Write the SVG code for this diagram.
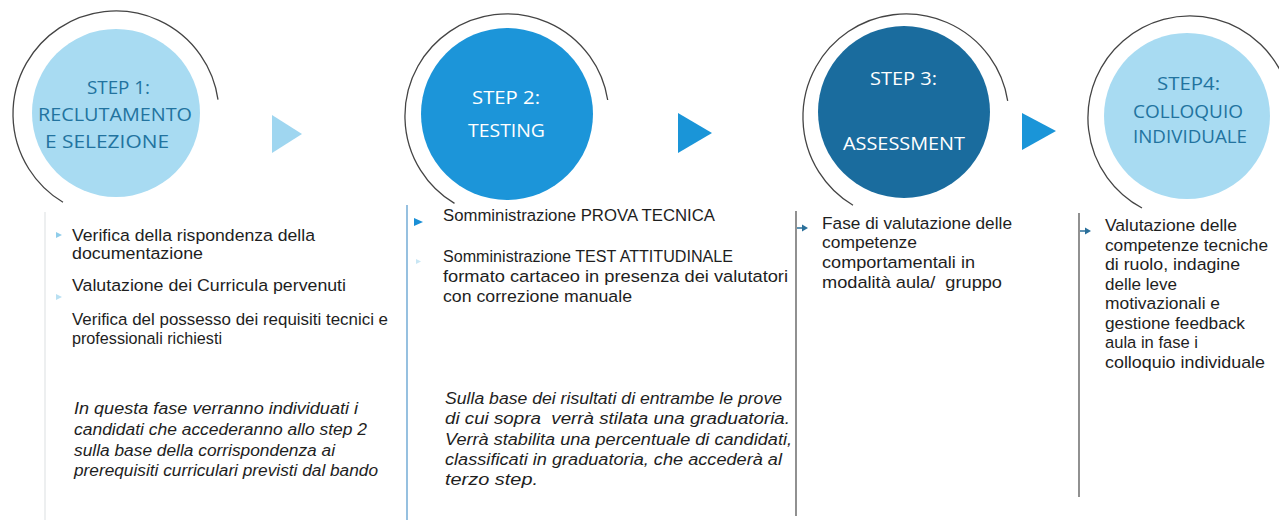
<svg xmlns="http://www.w3.org/2000/svg" width="1279" height="520" viewBox="0 0 1279 520">
<style>
.ring{fill:none;stroke:#444444;stroke-width:1.3}
.ct{font-family:"Open Sans","Liberation Sans",sans-serif;font-size:18.5px}
.dk{fill:#22739f}
.wh{fill:#ffffff}
.bt{font-family:"Liberation Sans",Arial,sans-serif;font-size:17.2px;fill:#1e1e1e}
.it{font-style:italic}
.vl{stroke-width:1.3;fill:none}
</style>
<rect width="1279" height="520" fill="#ffffff"/>

<g id="step1">
<circle cx="116" cy="113" r="84" fill="#a8dbf2"/>
<path class="ring" d="M 63 202.3 A 103 103 0 1 1 218 99.7"/>
<text class="ct dk" x="87" y="94" textLength="63" lengthAdjust="spacingAndGlyphs">STEP 1:</text>
<text class="ct dk" x="38" y="121" textLength="154" lengthAdjust="spacingAndGlyphs">RECLUTAMENTO</text>
<text class="ct dk" x="45" y="148" textLength="124" lengthAdjust="spacingAndGlyphs">E SELEZIONE</text>
</g>

<g id="step2">
<circle cx="507" cy="114" r="86" fill="#1c95d9"/>
<path class="ring" d="M 454.5 203.4 A 102 102 0 1 1 607.7 100"/>
<text class="ct wh" x="472" y="104" textLength="68" lengthAdjust="spacingAndGlyphs">STEP 2:</text>
<text class="ct wh" x="468" y="137" textLength="77" lengthAdjust="spacingAndGlyphs">TESTING</text>
</g>

<g id="step3">
<circle cx="904" cy="112" r="86" fill="#1a6c9e"/>
<path class="ring" d="M 853 205.3 A 103 103 0 1 1 1007.7 100.9"/>
<text class="ct wh" x="870" y="85" textLength="67" lengthAdjust="spacingAndGlyphs">STEP 3:</text>
<text class="ct wh" x="843" y="150" textLength="122" lengthAdjust="spacingAndGlyphs">ASSESSMENT</text>
</g>

<g id="step4">
<circle cx="1187" cy="116" r="83" fill="#a8dbf2"/>
<path class="ring" d="M 1142 208 A 102 102 0 1 1 1285.8 83.1"/>
<text class="ct dk" x="1157" y="90" textLength="63" lengthAdjust="spacingAndGlyphs">STEP4:</text>
<text class="ct dk" x="1133" y="118" textLength="110" lengthAdjust="spacingAndGlyphs">COLLOQUIO</text>
<text class="ct dk" x="1133" y="143" textLength="114" lengthAdjust="spacingAndGlyphs">INDIVIDUALE</text>
</g>

<g id="connectors">
<polygon points="272,115 302,134 272,153" fill="#9fd6f0"/>
<polygon points="678,113 712,133 678,153" fill="#1a95d8"/>
<polygon points="1022,113 1056,131 1022,150" fill="#1a95d8"/>
</g>

<g id="col1">
<line class="vl" x1="45" y1="212" x2="45" y2="520" stroke="#e4e6e8"/>
<polygon points="56,232 62,235 56,238" fill="#8fcdea"/>
<polygon points="56,294 62,297 56,300" fill="#b9e0f2"/>
<g class="bt">
<text x="72" y="241" textLength="243" lengthAdjust="spacingAndGlyphs">Verifica della rispondenza della</text>
<text x="72" y="259" textLength="131" lengthAdjust="spacingAndGlyphs">documentazione</text>
<text x="72" y="291" textLength="274" lengthAdjust="spacingAndGlyphs">Valutazione dei Curricula pervenuti</text>
<text x="72" y="325" textLength="316" lengthAdjust="spacingAndGlyphs">Verifica del possesso dei requisiti tecnici e</text>
<text x="72" y="344" textLength="150" lengthAdjust="spacingAndGlyphs">professionali richiesti</text>
</g>
<g class="bt it">
<text x="74" y="414" textLength="284" lengthAdjust="spacingAndGlyphs">In questa fase verranno individuati i</text>
<text x="74" y="435" textLength="293" lengthAdjust="spacingAndGlyphs">candidati che accederanno allo step 2</text>
<text x="74" y="456" textLength="261" lengthAdjust="spacingAndGlyphs">sulla base della corrispondenza ai</text>
<text x="74" y="476" textLength="304" lengthAdjust="spacingAndGlyphs">prerequisiti curriculari previsti dal bando</text>
</g>
</g>

<g id="col2">
<line class="vl" x1="407" y1="205" x2="407" y2="520" stroke="#5f9fcf"/>
<polygon points="414,218 423,222 414,226" fill="#1a8fd6"/>
<polygon points="416,259 421,261.5 416,264" fill="#c8e6f4"/>
<g class="bt">
<text x="443" y="221" textLength="272" lengthAdjust="spacingAndGlyphs">Somministrazione PROVA TECNICA</text>
<text x="443" y="262" textLength="290" lengthAdjust="spacingAndGlyphs">Somministrazione TEST ATTITUDINALE</text>
<text x="443" y="282" textLength="345" lengthAdjust="spacingAndGlyphs">formato cartaceo in presenza dei valutatori</text>
<text x="443" y="302" textLength="189" lengthAdjust="spacingAndGlyphs">con correzione manuale</text>
</g>
<g class="bt it">
<text x="445" y="404" textLength="337" lengthAdjust="spacingAndGlyphs">Sulla base dei risultati di entrambe le prove</text>
<text x="445" y="424" textLength="345" lengthAdjust="spacingAndGlyphs" xml:space="preserve">di cui sopra  verrà stilata una graduatoria.</text>
<text x="445" y="445" textLength="347" lengthAdjust="spacingAndGlyphs">Verrà stabilita una percentuale di candidati,</text>
<text x="445" y="465" textLength="337" lengthAdjust="spacingAndGlyphs">classificati in graduatoria, che accederà al</text>
<text x="445" y="485" textLength="93" lengthAdjust="spacingAndGlyphs">terzo step.</text>
</g>
</g>

<g id="col3">
<line class="vl" x1="796" y1="211" x2="796" y2="516" stroke="#555555"/>
<path d="M 797 228 L 803 228" stroke="#2a6f9a" stroke-width="1.5"/>
<polygon points="802,224.5 808,228 802,231.5" fill="#2a6f9a"/>
<g class="bt">
<text x="822" y="229" textLength="190" lengthAdjust="spacingAndGlyphs">Fase di valutazione delle</text>
<text x="822" y="248" textLength="95" lengthAdjust="spacingAndGlyphs">competenze</text>
<text x="822" y="268" textLength="153" lengthAdjust="spacingAndGlyphs">comportamentali in</text>
<text x="822" y="288" textLength="180" lengthAdjust="spacingAndGlyphs" xml:space="preserve">modalità aula/  gruppo</text>
</g>
</g>

<g id="col4">
<line class="vl" x1="1079" y1="213" x2="1079" y2="497" stroke="#555555"/>
<path d="M 1080 231 L 1086 231" stroke="#2a6f9a" stroke-width="1.5"/>
<polygon points="1085,227.5 1091,231 1085,234.5" fill="#2a6f9a"/>
<g class="bt">
<text x="1105" y="231" textLength="132" lengthAdjust="spacingAndGlyphs">Valutazione delle</text>
<text x="1105" y="250.5" textLength="163" lengthAdjust="spacingAndGlyphs">competenze tecniche</text>
<text x="1105" y="270" textLength="135" lengthAdjust="spacingAndGlyphs">di ruolo, indagine</text>
<text x="1105" y="289.5" textLength="72" lengthAdjust="spacingAndGlyphs">delle leve</text>
<text x="1105" y="309" textLength="115" lengthAdjust="spacingAndGlyphs">motivazionali e</text>
<text x="1105" y="328.5" textLength="140" lengthAdjust="spacingAndGlyphs">gestione feedback</text>
<text x="1105" y="348" textLength="93" lengthAdjust="spacingAndGlyphs">aula in fase i</text>
<text x="1105" y="367.5" textLength="160" lengthAdjust="spacingAndGlyphs">colloquio individuale</text>
</g>
</g>
</svg>
